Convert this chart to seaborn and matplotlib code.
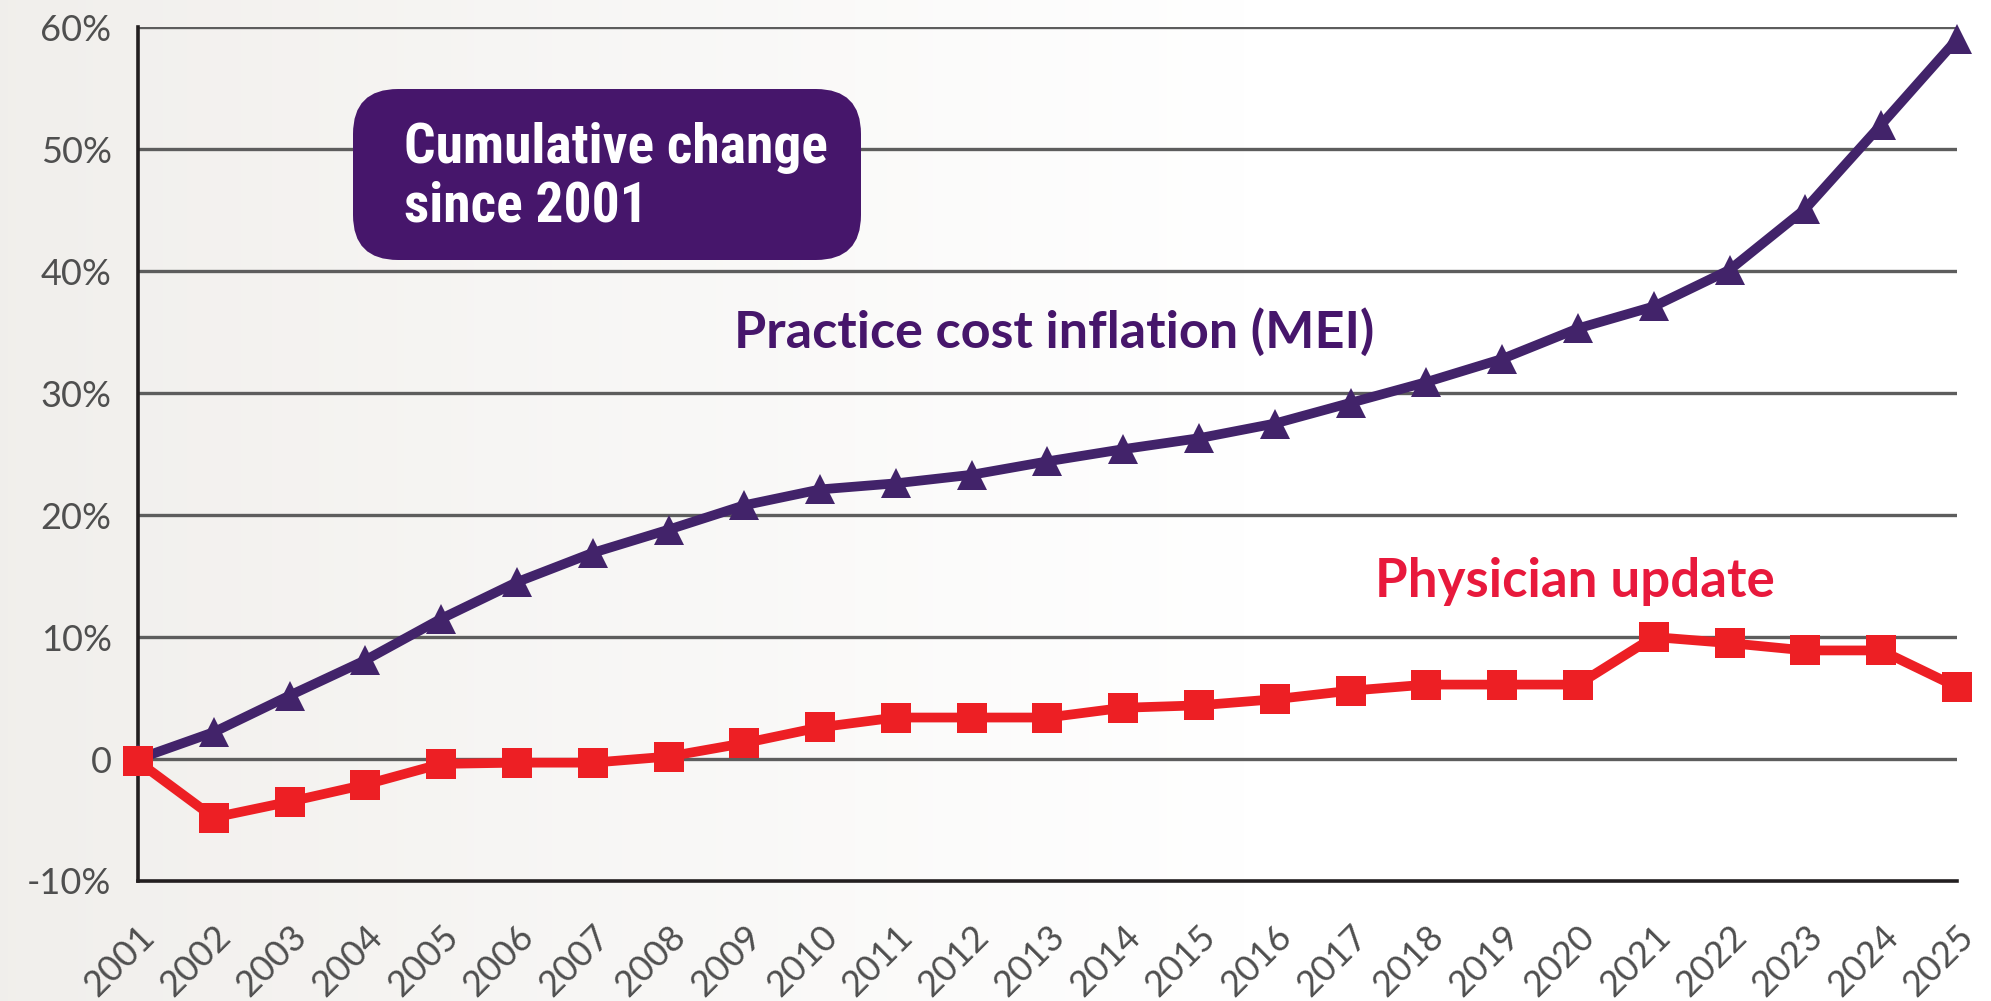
import numpy as np
import matplotlib.pyplot as plt
import seaborn as sns
from matplotlib.patches import FancyBboxPatch

years = list(range(2001, 2026))
mei = [0.0, 2.2, 5.2, 8.1, 11.5, 14.5, 16.9, 18.8, 20.8, 22.1, 22.6, 23.3, 24.4,
       25.4, 26.3, 27.5, 29.2, 30.9, 32.8, 35.3, 37.1, 40.1, 45.1, 52.0, 59.0]
physician = [-0.2, -4.8, -3.5, -2.1, -0.4, -0.3, -0.3, 0.2, 1.3, 2.6, 3.4, 3.4, 3.4,
             4.2, 4.4, 4.9, 5.6, 6.1, 6.1, 6.1, 10.0, 9.5, 8.9, 8.9, 5.9]
yticks = [-10, 0, 10, 20, 30, 40, 50, 60]
ytick_labels = ['-10%', '0', '10%', '20%', '30%', '40%', '50%', '60%']

purple = '#42236a'
box_purple = '#46166b'
red = '#ed1f24'
red_text = '#e8193c'

sns.set_style('white')
plt.rcParams['font.family'] = ['Lato', 'DejaVu Sans']

fig = plt.figure(figsize=(19.91, 10.01), dpi=100)

# soft warm-grey to white background
bg = fig.add_axes([0, 0, 1, 1], zorder=-10)
grad = np.linspace(0, 1, 256)[None, :]
c0 = np.array([0.945, 0.937, 0.925])
c1 = np.array([1.0, 1.0, 1.0])
img = c0[None, None, :] + (c1 - c0)[None, None, :] * np.clip(grad[..., None] * 1.6, 0, 1)
bg.imshow(img, aspect='auto', extent=[0, 1, 0, 1])
bg.axis('off')

ax = fig.add_axes([0.0693, 0.1199, 0.9136, 0.853])
ax.set_facecolor('none')

for y in yticks[1:]:
    ax.axhline(y, color='#5d5d5d', lw=2.4, zorder=1)

sns.lineplot(x=years, y=mei, ax=ax, color=purple, lw=7, marker='^',
             markersize=22, markeredgewidth=0, clip_on=False, zorder=3)
sns.lineplot(x=years, y=physician, ax=ax, color=red, lw=7, marker='s',
             markersize=21, markeredgewidth=0, clip_on=False, zorder=4)

ax.set_xlim(2001, 2025)
ax.set_ylim(-10, 60)
ax.set_yticks(yticks)
ax.set_yticklabels(ytick_labels)
ax.set_xticks(years)
ax.set_xticklabels([str(y) for y in years], rotation=45, ha='right',
                   rotation_mode='anchor')

for s in ['top', 'right']:
    ax.spines[s].set_visible(False)
for s in ['left', 'bottom']:
    ax.spines[s].set_color('#231f20')
    ax.spines[s].set_linewidth(2.6)

ax.tick_params(axis='both', which='major', length=9, width=2.6, color='#231f20',
               labelsize=26, labelcolor='#4f4f4f', direction='out')
ax.tick_params(axis='x', pad=19)
ax.tick_params(axis='y', pad=10)

# annotation box
tr = fig.dpi_scale_trans
box = FancyBboxPatch((3.53 + 0.45, 7.41 + 0.45), 5.08 - 0.9, 1.71 - 0.9,
                     boxstyle='round,pad=0.45,rounding_size=0.45',
                     transform=tr, facecolor=box_purple, edgecolor='none',
                     zorder=5)
fig.add_artist(box)
cond = ['Roboto Condensed', 'Lato']
fig.text(4.04, (1001 - 163) / 100, 'Cumulative change', transform=tr,
         color='white', fontsize=40, fontweight='bold', family=cond,
         va='baseline', zorder=6)
fig.text(4.04, (1001 - 222) / 100, 'since 2001', transform=tr,
         color='white', fontsize=40, fontweight='bold', family=cond,
         va='baseline', zorder=6)

fig.text(7.34, (1001 - 348) / 100, 'Practice cost inflation (MEI)', transform=tr,
         color=box_purple, fontsize=37.5, fontweight='bold', va='baseline')
fig.text(13.75, (1001 - 597) / 100, 'Physician update', transform=tr,
         color=red_text, fontsize=38, fontweight='bold', va='baseline')

fig.savefig('out.png', dpi=100)
